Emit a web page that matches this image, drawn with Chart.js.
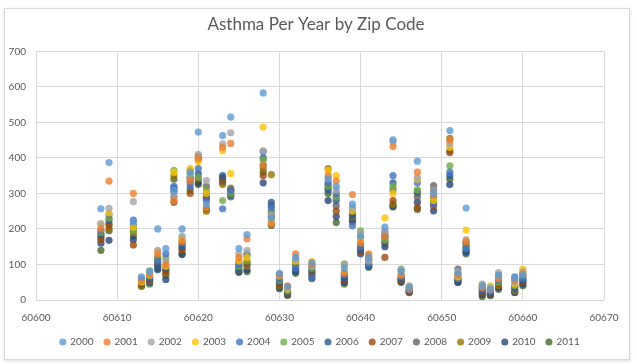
<!DOCTYPE html>
<html>
<head>
<meta charset="utf-8">
<script src="https://cdn.jsdelivr.net/npm/chart.js@4/dist/chart.umd.min.js"></script>
<style>
  html, body { margin: 0; padding: 0; background: #fff; }
  #frame { position: absolute; left: 4px; top: 8px; width: 624px; height: 350px; border: 1px solid #d9d9d9; box-shadow: 0 1px 3px rgba(0,0,0,0.15); }
  #wrap { position: absolute; left: 0; top: 0; width: 637px; height: 364px; }
</style>
</head>
<body>
<div id="frame"></div>
<div id="wrap"><canvas id="asthmaChart" width="637" height="364"></canvas></div>
<script>
const zips = [60608, 60609, 60612, 60613, 60614, 60615, 60616, 60617, 60618, 60619, 60620, 60621, 60623, 60624,
    60625, 60626, 60628, 60629, 60630, 60631, 60632, 60634, 60636, 60637, 60638, 60639, 60640, 60641,
    60643, 60644, 60645, 60646, 60647, 60649, 60651, 60652, 60653, 60655, 60656, 60657, 60659, 60660];

const years = ['2000', '2001', '2002', '2003', '2004', '2005', '2006', '2007', '2008', '2009', '2010', '2011'];
const colors = ['#5B9BD5', '#ED7D31', '#A5A5A5', '#FFC000', '#4472C4', '#70AD47',
    '#255E91', '#9E480E', '#636363', '#997300', '#264478', '#43682B'];

// one array per year, same order as zips
const y2000 = [257, 387, 220, 65, 80, 200, 145, 310, 200, 360, 473, 270, 463, 515, 145, 184, 583, 230, 75, 38, 120, 105, 340, 320, 90, 270, 180, 120, 205, 451, 80, 35, 391, 300, 477, 75, 259, 40, 30, 70, 60, 70];
const y2001 = [200, 335, 300, 55, 72, 130, 100, 280, 165, 335, 400, 260, 430, 441, 120, 172, 380, 215, 70, 40, 130, 100, 350, 335, 75, 297, 160, 130, 180, 432, 70, 30, 360, 295, 450, 70, 165, 35, 28, 60, 55, 75];
const y2002 = [215, 258, 277, 60, 78, 140, 110, 295, 180, 345, 410, 336, 440, 471, 130, 140, 420, 240, 72, 35, 115, 95, 345, 310, 100, 260, 190, 110, 195, 445, 85, 40, 345, 310, 440, 80, 170, 45, 35, 77, 50, 80];
const y2003 = [212, 245, 205, 50, 70, 138, 95, 360, 170, 370, 390, 300, 420, 356, 110, 120, 487, 220, 68, 30, 110, 108, 365, 350, 80, 250, 170, 125, 231, 300, 72, 35, 340, 280, 430, 65, 197, 38, 40, 65, 45, 87];
const y2004 = [195, 240, 225, 60, 65, 110, 130, 320, 160, 320, 370, 280, 257, 310, 100, 130, 418, 260, 60, 28, 90, 62, 330, 300, 70, 209, 150, 100, 190, 350, 65, 28, 330, 270, 360, 60, 145, 30, 25, 55, 65, 60];
const y2005 = [190, 230, 195, 55, 82, 115, 118, 365, 175, 355, 345, 310, 280, 300, 95, 110, 395, 250, 55, 25, 100, 90, 320, 290, 102, 255, 195, 105, 170, 320, 87, 38, 310, 290, 378, 72, 150, 42, 32, 50, 40, 65];
const y2006 = [185, 225, 210, 48, 60, 95, 90, 305, 150, 330, 355, 300, 350, 295, 90, 125, 400, 275, 50, 22, 85, 85, 310, 280, 60, 240, 140, 95, 180, 330, 60, 25, 305, 285, 350, 55, 140, 25, 20, 60, 35, 55];
const y2007 = [170, 210, 155, 45, 58, 100, 80, 275, 140, 300, 340, 285, 340, 305, 105, 105, 350, 235, 45, 20, 95, 80, 325, 250, 55, 245, 135, 115, 120, 280, 55, 22, 260, 265, 415, 58, 162, 20, 18, 45, 38, 50];
const y2008 = [175, 215, 200, 52, 62, 105, 85, 290, 145, 340, 405, 320, 335, 290, 85, 100, 380, 265, 48, 18, 105, 75, 315, 265, 65, 230, 155, 112, 165, 310, 58, 30, 290, 322, 420, 87, 155, 28, 22, 68, 30, 58];
const y2009 = [180, 200, 190, 40, 55, 120, 75, 350, 155, 365, 395, 250, 325, 315, 95, 95, 370, 353, 40, 22, 108, 95, 370, 290, 75, 235, 145, 125, 175, 270, 62, 26, 300, 275, 455, 60, 148, 35, 30, 40, 25, 70];
const y2010 = [160, 168, 170, 42, 50, 85, 58, 315, 130, 345, 330, 290, 345, 300, 80, 85, 330, 245, 35, 15, 80, 70, 280, 235, 50, 225, 130, 98, 150, 265, 52, 24, 275, 251, 325, 50, 135, 15, 15, 35, 22, 45];
const y2011 = [140, 195, 180, 38, 45, 90, 70, 340, 128, 310, 325, 255, 330, 310, 78, 80, 360, 210, 32, 13, 75, 60, 300, 218, 45, 220, 175, 92, 160, 262, 49, 21, 255, 310, 340, 49, 130, 10, 12, 30, 21, 40];

const xTicks = [60600, 60610, 60620, 60630, 60640, 60650, 60660, 60670];
const yTicks = [0, 100, 200, 300, 400, 500, 600, 700];

const seriesValues = [y2000, y2001, y2002, y2003, y2004, y2005, y2006, y2007, y2008, y2009, y2010, y2011];

const datasets = years.map((year, i) => ({
    label: year,
    data: zips.map((zip, j) => ({ x: zip, y: seriesValues[i][j] })),
    backgroundColor: colors[i] + 'cc',
    borderColor: colors[i] + 'cc',
    borderWidth: 0,
    pointRadius: 3.6,
    pointHoverRadius: 3.6,
}));

const fontFamily = 'Lato, "Open Sans", sans-serif';
const textColor = '#595959';
const gridColor = '#d9d9d9';

// title and legend are centred on the frame, not on the plot
const centreOnFrame = {
    id: 'centreOnFrame',
    afterLayout(chart) {
        chart.titleBlock.left += 10;
        chart.titleBlock.right += 10;
        chart.legend.left += 14;
        chart.legend.right += 14;
    }
};

new Chart(document.getElementById('asthmaChart'), {
    type: 'scatter',
    data: { datasets: datasets },
    plugins: [centreOnFrame],
    options: {
        responsive: false,
        animation: false,
        layout: { padding: { left: 8, right: 33, top: 4, bottom: 7 } },
        plugins: {
            title: {
                display: true,
                text: 'Asthma Per Year by Zip Code',
                color: textColor,
                font: { family: fontFamily, size: 17, weight: 'normal' },
                padding: { top: 10, bottom: 17 },
            },
            legend: {
                position: 'bottom',
                labels: {
                    usePointStyle: true,
                    pointStyle: 'circle',
                    boxWidth: 5,
                    boxHeight: 5,
                    padding: 11,
                    color: textColor,
                    font: { family: fontFamily, size: 10 },
                },
            },
            tooltip: { enabled: false },
        },
        scales: {
            x: {
                type: 'linear',
                min: xTicks[0],
                max: xTicks[xTicks.length - 1],
                afterBuildTicks: axis => { axis.ticks = xTicks.map(v => ({ value: v })); },
                afterFit: axis => { axis.height = 26; },
                grid: { color: gridColor, drawTicks: false },
                border: { display: false },
                ticks: {
                    padding: 12,
                    color: textColor,
                    font: { family: fontFamily, size: 10 },
                    callback: v => String(v),
                    maxRotation: 0,
                },
            },
            y: {
                type: 'linear',
                min: yTicks[0],
                max: yTicks[yTicks.length - 1],
                afterBuildTicks: axis => { axis.ticks = yTicks.map(v => ({ value: v })); },
                afterFit: axis => { axis.width = 28; },
                grid: { color: gridColor, drawTicks: false },
                border: { display: false },
                ticks: {
                    padding: 10,
                    color: textColor,
                    font: { family: fontFamily, size: 10 },
                },
            },
        },
    },
});
</script>
</body>
</html>
